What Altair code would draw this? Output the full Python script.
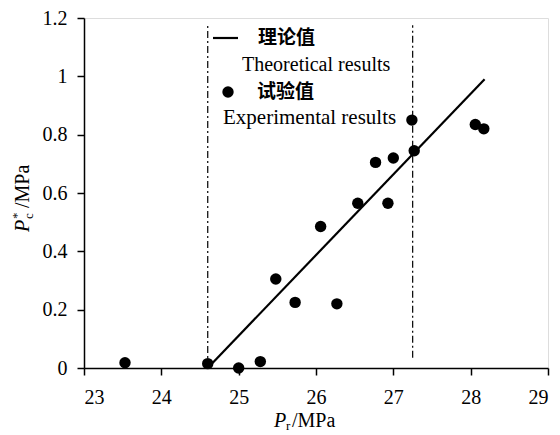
import altair as alt
import pandas as pd

# Experimental data
exp_x = [23.53, 24.6, 25.0, 25.28, 25.48, 25.73, 26.06, 26.27, 26.54, 26.77, 26.93, 27.0, 27.24, 27.27, 28.06, 28.17]
exp_y = [0.018, 0.015, 0.0, 0.022, 0.305, 0.225, 0.485, 0.22, 0.565, 0.705, 0.565, 0.72, 0.85, 0.745, 0.835, 0.82]

# Theoretical line endpoints
theo_x = [24.6, 28.18]
theo_y = [0.0, 0.99]

# Vertical dash-dot boundaries
vline_x = [24.6, 27.25]
vline_y1 = [0.0, 0.035]
vline_y2 = [1.175, 1.175]

x_ticks = [23, 24, 25, 26, 27, 28, 29]
y_ticks = [0, 0.2, 0.4, 0.6, 0.8, 1, 1.2]

SERIF = "Liberation Serif"
CJK = "Noto Sans CJK SC"

exp_df = pd.DataFrame({"x": exp_x, "y": exp_y})
theo_df = pd.DataFrame({"x": theo_x, "y": theo_y})
vl_df = pd.DataFrame({"x": vline_x, "y": vline_y1, "y2": vline_y2})

xs = alt.Scale(domain=[23, 29], nice=False, zero=False)
ys = alt.Scale(domain=[0, 1.2], nice=False)

xax = alt.Axis(values=x_ticks, grid=False, title=None, format="~g",
               labelFont=SERIF, labelFontSize=20, labelColor="black",
               domainColor="black", domainWidth=1.5, tickColor="black",
               tickWidth=1.5, tickSize=7, labelPadding=12)
yax = alt.Axis(values=y_ticks, grid=False, title=None, format="~g",
               labelFont=SERIF, labelFontSize=20, labelColor="black",
               domainColor="black", domainWidth=1.5, tickColor="black",
               tickWidth=1.5, tickSize=7, labelPadding=10)

base_x = alt.X("x:Q", scale=xs, axis=xax)
base_y = alt.Y("y:Q", scale=ys, axis=yax)

points = alt.Chart(exp_df).mark_circle(size=130, color="black", opacity=1).encode(x=base_x, y=base_y)
line = alt.Chart(theo_df).mark_line(color="black", strokeWidth=2.2).encode(x=base_x, y=base_y)
vlines = alt.Chart(vl_df).mark_rule(color="black", strokeWidth=1.2, strokeDash=[7, 3, 2, 3]).encode(
    x=alt.X("x:Q", scale=xs), y=alt.Y("y:Q", scale=ys), y2="y2:Q")

def txt(s, x, y, size=19, font=SERIF, weight="normal", style="normal", angle=0, align="left", baseline="middle"):
    return alt.Chart(pd.DataFrame({"t": [s]})).mark_text(
        font=font, fontSize=size, fontWeight=weight, fontStyle=style, angle=angle,
        align=align, baseline=baseline, color="black"
    ).encode(x=alt.value(x), y=alt.value(y), text="t:N")

legend_line = alt.Chart(pd.DataFrame({"a": [0]})).mark_rule(color="black", strokeWidth=2.2).encode(
    x=alt.value(129), x2=alt.value(154), y=alt.value(20))
legend_dot = alt.Chart(pd.DataFrame({"a": [0]})).mark_circle(size=130, color="black", opacity=1).encode(
    x=alt.value(144), y=alt.value(74))

layers = [
    vlines, line, points, legend_line, legend_dot,
    txt("理论值", 174, 20, size=19, font=CJK, weight="bold"),
    txt("Theoretical results", 158, 47, size=20),
    txt("试验值", 173, 74, size=19, font=CJK, weight="bold"),
    txt("Experimental results", 139, 100, size=21),
    # x title: P_r/MPa
    txt("P", 190, 403, size=20, style="italic"),
    txt("r", 202, 408, size=13),
    txt("/MPa", 208, 403, size=20),
    # y title: P*_c/MPa (rotated)
    txt("P", -61, 214, size=20, style="italic", angle=270),
    txt("*", -67, 201, size=13, angle=270),
    txt("c", -55, 201, size=13, angle=270),
    txt("/MPa", -61, 190, size=20, angle=270),
]

chart = alt.layer(*layers).properties(
    width=464, height=350,
    autosize=alt.AutoSizeParams(type="none"),
    padding={"left": 76, "top": 10, "right": 4, "bottom": 67},
).configure_view(stroke="black", strokeWidth=1.5).configure(background="white")

chart.save("out.html", embed_options={"renderer": "svg", "actions": False})
